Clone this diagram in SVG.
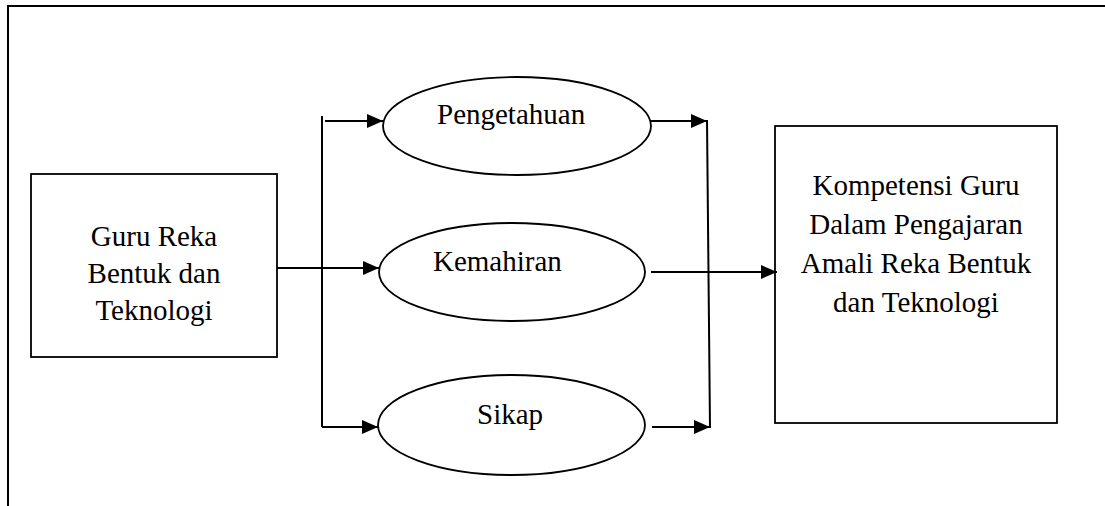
<svg xmlns="http://www.w3.org/2000/svg" width="1105" height="506" viewBox="0 0 1105 506">
<style>
.ln{stroke:#000;stroke-width:2;fill:none}
.shape{stroke:#000;stroke-width:1.8;fill:none}
</style>
<defs>
<marker id="ah" markerUnits="userSpaceOnUse" markerWidth="16" markerHeight="14" refX="16" refY="7" orient="auto">
<path d="M0,0 L16,7 L0,14 Z" fill="#000"/>
</marker>
</defs>
<rect width="1105" height="506" fill="#fff"/>
<path d="M8,506 V6 H1105" class="ln"/>
<g id="connectors">
<line x1="322" y1="116" x2="322" y2="427" class="ln"/>
<line x1="325" y1="121" x2="383" y2="121" class="ln" marker-end="url(#ah)"/>
<line x1="277" y1="268" x2="379" y2="268" class="ln" marker-end="url(#ah)"/>
<polyline points="322,427 378,427" class="ln" marker-end="url(#ah)"/>
<line x1="707" y1="120" x2="710" y2="428" class="ln"/>
<line x1="651" y1="121" x2="707" y2="121" class="ln" marker-end="url(#ah)"/>
<line x1="651" y1="272" x2="777" y2="272" class="ln" marker-end="url(#ah)"/>
<line x1="652" y1="427" x2="710" y2="427" class="ln" marker-end="url(#ah)"/>
</g>
<g font-family="'Liberation Serif', 'Times New Roman', Times, serif" font-size="29" fill="#000">
<g id="guru">
<rect x="31" y="174" width="246" height="183" class="shape"/>
<text text-anchor="middle" x="154" y="246">Guru Reka</text>
<text text-anchor="middle" x="154" y="283">Bentuk dan</text>
<text text-anchor="middle" x="154" y="320">Teknologi</text>
</g>
<g id="pengetahuan">
<ellipse cx="517" cy="126" rx="134" ry="49" class="shape"/>
<text x="437" y="124">Pengetahuan</text>
</g>
<g id="kemahiran">
<ellipse cx="512" cy="272" rx="133" ry="49" class="shape"/>
<text x="433" y="271">Kemahiran</text>
</g>
<g id="sikap">
<ellipse cx="511.5" cy="425" rx="133.5" ry="50" class="shape"/>
<text x="477" y="424">Sikap</text>
</g>
<g id="kompetensi">
<rect x="775" y="126" width="282" height="297" class="shape"/>
<text text-anchor="middle" x="916" y="195">Kompetensi Guru</text>
<text text-anchor="middle" x="916" y="234">Dalam Pengajaran</text>
<text text-anchor="middle" x="916" y="273">Amali Reka Bentuk</text>
<text text-anchor="middle" x="916" y="312">dan Teknologi</text>
</g>
</g>
</svg>
